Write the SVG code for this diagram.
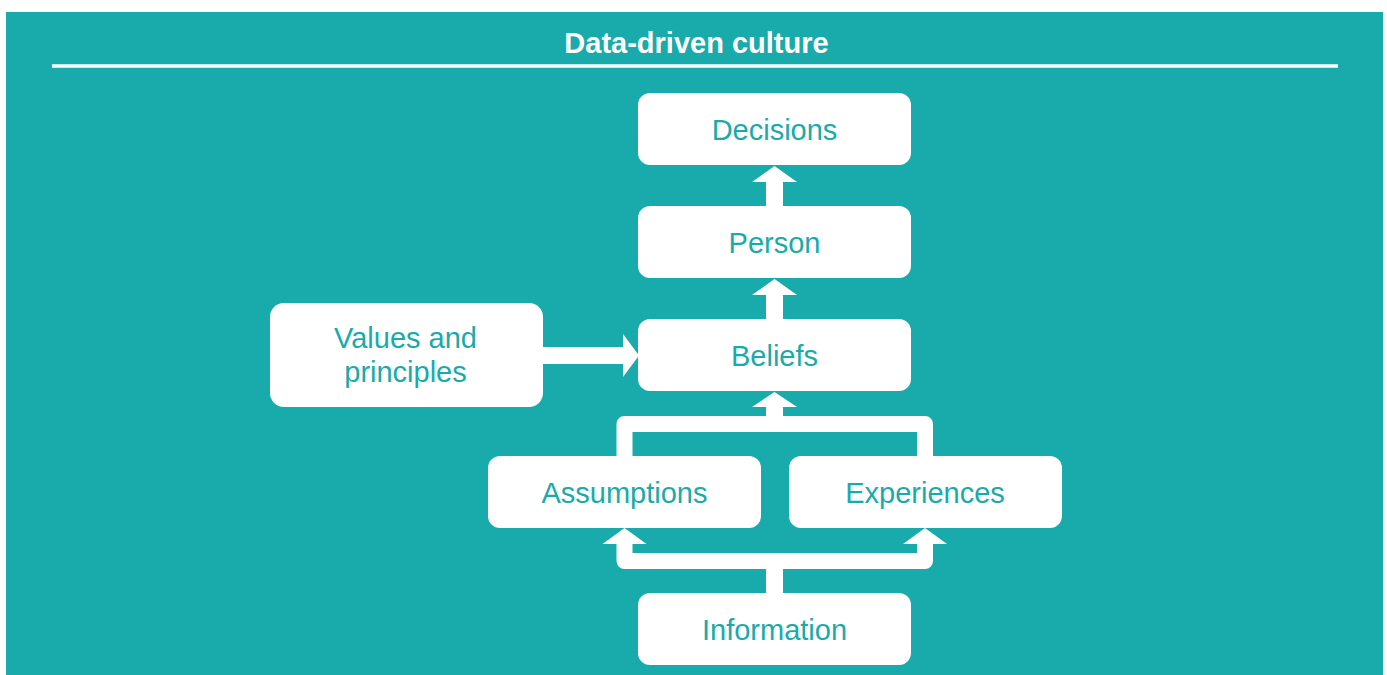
<svg xmlns="http://www.w3.org/2000/svg" width="1387" height="675" viewBox="0 0 1387 675">
  <style>
    .box { fill: #ffffff; }
    .label { font-family: "Liberation Sans", Arial, sans-serif; font-size: 29px; fill: #19abab; text-anchor: middle; }
    .title { font-family: "Liberation Sans", Arial, sans-serif; font-size: 29px; font-weight: bold; fill: #ffffff; text-anchor: middle; }
    .flow { fill: none; stroke: #ffffff; stroke-width: 16; stroke-linejoin: round; }
    .head { fill: #ffffff; }
  </style>

  <!-- panel background -->
  <rect x="0" y="0" width="1387" height="675" fill="#ffffff"/>
  <rect x="6" y="12" width="1377" height="663" fill="#19abab"/>

  <!-- heading -->
  <g id="title">
    <text class="title" x="696.5" y="53">Data-driven culture</text>
    <line x1="52" y1="66" x2="1338" y2="66" stroke="#ffffff" stroke-width="3.5"/>
  </g>

  <!-- connectors -->
  <g id="connectors">
    <!-- Person -> Decisions -->
    <rect x="766" y="180" width="17" height="27" class="head"/>
    <polygon class="head" points="752,182 774.5,166 797,182"/>
    <!-- Beliefs -> Person -->
    <rect x="766" y="293" width="17" height="27" class="head"/>
    <polygon class="head" points="752,295 774.5,279 797,295"/>
    <!-- Values and principles -> Beliefs -->
    <rect x="542" y="347" width="83" height="17" class="head"/>
    <polygon class="head" points="623,334 639,355.5 623,377"/>
    <!-- Assumptions / Experiences -> Beliefs -->
    <path class="flow" d="M624.5 457 V424 H925 V457"/>
    <rect x="766" y="405" width="17" height="20" class="head"/>
    <polygon class="head" points="752,407 774.5,392 797,407"/>
    <!-- Information -> Assumptions / Experiences -->
    <path class="flow" d="M624.5 542 V561 H925 V542"/>
    <rect x="766" y="560" width="17" height="34" class="head"/>
    <polygon class="head" points="602.5,544 624.5,528 646.5,544"/>
    <polygon class="head" points="903,544 925,528 947,544"/>
  </g>

  <g id="decisions">
    <rect class="box" x="638" y="93" width="273" height="72" rx="12"/>
    <text class="label" x="774.5" y="139.5">Decisions</text>
  </g>

  <g id="person">
    <rect class="box" x="638" y="206" width="273" height="72" rx="12"/>
    <text class="label" x="774.5" y="252.5">Person</text>
  </g>

  <g id="beliefs">
    <rect class="box" x="638" y="319" width="273" height="72" rx="12"/>
    <text class="label" x="774.5" y="366">Beliefs</text>
  </g>

  <g id="values">
    <rect class="box" x="270" y="303" width="273" height="104" rx="14"/>
    <text class="label" x="405.5" y="347.5">Values and</text>
    <text class="label" x="405.5" y="381.5">principles</text>
  </g>

  <g id="assumptions">
    <rect class="box" x="488" y="456" width="273" height="72" rx="12"/>
    <text class="label" x="624.5" y="502.5">Assumptions</text>
  </g>

  <g id="experiences">
    <rect class="box" x="789" y="456" width="273" height="72" rx="12"/>
    <text class="label" x="925" y="502.5">Experiences</text>
  </g>

  <g id="information">
    <rect class="box" x="638" y="593" width="273" height="72" rx="12"/>
    <text class="label" x="774.5" y="639.5">Information</text>
  </g>
</svg>
